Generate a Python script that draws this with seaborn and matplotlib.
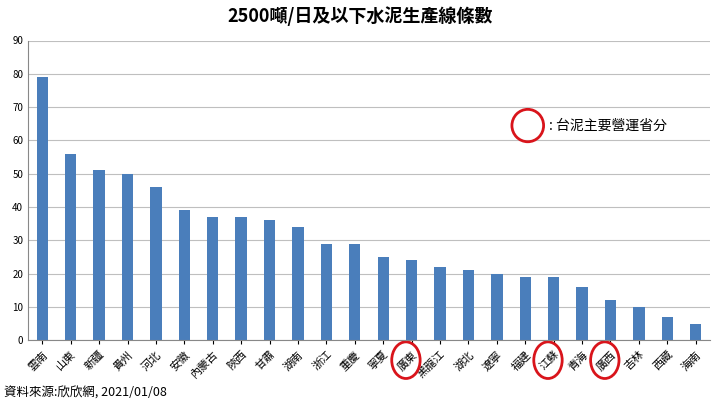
import matplotlib
matplotlib.use("Agg")
import matplotlib.pyplot as plt
from matplotlib import font_manager
from matplotlib.patches import Ellipse
import pandas as pd
import seaborn as sns

provinces = ["雲南", "山東", "新疆", "貴州", "河北", "安徽", "內蒙古", "陝西", "甘肅", "湖南", "浙江", "重慶",
             "寧夏", "廣東", "黑龍江", "湖北", "遼寧", "福建", "江蘇", "青海", "廣西", "吉林", "西藏", "海南"]
counts = [79, 56, 51, 50, 46, 39, 37, 37, 36, 34, 29, 29, 25, 24, 22, 21, 20, 19, 19, 16, 12, 10, 7, 5]
circled = ["廣東", "江蘇", "廣西"]

# find a CJK font, whatever name it was registered under
cjk = [f.name for f in font_manager.fontManager.ttflist if "CJK" in f.name or "CJK" in f.fname]
tc = [n for n in cjk if "TC" in n] or cjk
plt.rcParams["font.family"] = tc[:1] + ["DejaVu Sans"]
plt.rcParams["font.sans-serif"] = tc[:1] + ["DejaVu Sans"]

df = pd.DataFrame({"province": provinces, "count": counts})

fig = plt.figure(figsize=(7.2, 4.05), dpi=100)
ax = fig.add_axes([0.039, 0.16, 0.947, 0.74])
sns.barplot(data=df, x="province", y="count", color="#4a7ebb", saturation=1, width=0.4, ax=ax)
ax.set_ylim(0, 90)
ax.set_yticks(range(0, 91, 10))
ax.grid(axis="y", color="#bfbfbf", lw=0.8)
ax.set_axisbelow(True)
for s in ["top", "right"]:
    ax.spines[s].set_visible(False)
ax.spines["left"].set_color("#888888")
ax.spines["bottom"].set_color("#888888")
ax.tick_params(axis="y", labelsize=7, length=0)
ax.tick_params(axis="x", labelsize=8, length=3)
plt.setp(ax.get_xticklabels(), rotation=45, ha="right", rotation_mode="anchor")
ax.set_xlabel("")
ax.set_ylabel("")

for name in circled:
    i = provinces.index(name)
    ax.add_patch(Ellipse((i - 0.2, -6), 1.0, 11, fill=False, ec="#d9141b", lw=2,
                         clip_on=False, transform=ax.transData))

fig.add_artist(Ellipse((0.733, 0.69), 0.044, 0.08, fill=False, ec="#d9141b", lw=2,
                       transform=fig.transFigure))
fig.text(0.763, 0.69, ": 台泥主要營運省分", fontsize=10, va="center")
fig.suptitle("2500噸/日及以下水泥生產線條數", fontsize=13, fontweight="bold", y=0.985)
fig.text(0.005, 0.02, "資料來源:欣欣網, 2021/01/08", fontsize=9)

fig.savefig("out.png", dpi=100)
